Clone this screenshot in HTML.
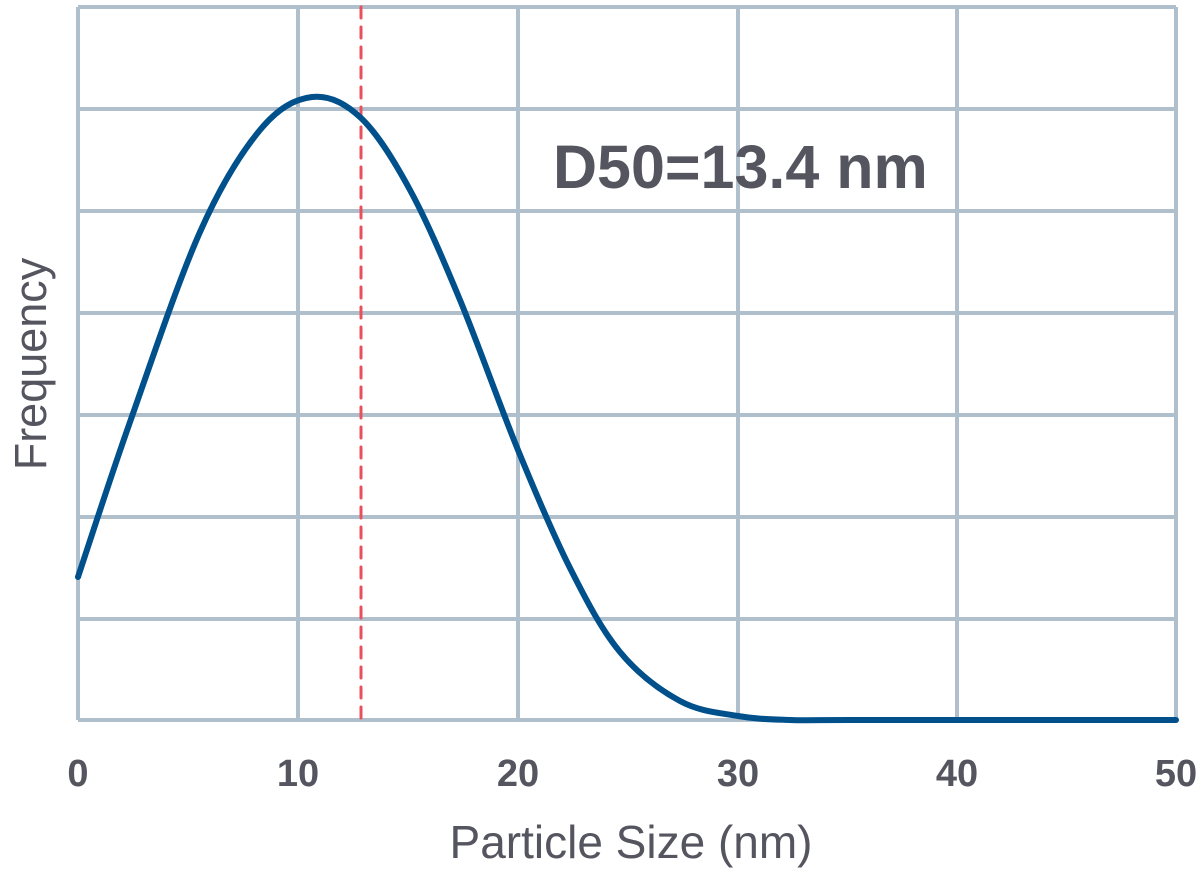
<!DOCTYPE html>
<html><head><meta charset="utf-8"><style>
html,body{margin:0;padding:0;background:#fff;}
svg{display:block;font-family:"Liberation Sans",sans-serif;}
</style></head><body>
<svg width="1200" height="872" viewBox="0 0 1200 872" xmlns="http://www.w3.org/2000/svg">
<g stroke="#b0bfcc" stroke-width="4" fill="none">
<line x1="78" y1="7" x2="1176" y2="7"/>
<line x1="78" y1="109" x2="1176" y2="109"/>
<line x1="78" y1="211" x2="1176" y2="211"/>
<line x1="78" y1="313" x2="1176" y2="313"/>
<line x1="78" y1="415" x2="1176" y2="415"/>
<line x1="78" y1="517" x2="1176" y2="517"/>
<line x1="78" y1="619" x2="1176" y2="619"/>
<line x1="78" y1="720" x2="1176" y2="720"/>
<line x1="78" y1="7" x2="78" y2="720"/>
<line x1="298" y1="7" x2="298" y2="720"/>
<line x1="518" y1="7" x2="518" y2="720"/>
<line x1="738" y1="7" x2="738" y2="720"/>
<line x1="957" y1="7" x2="957" y2="720"/>
<line x1="1176" y1="7" x2="1176" y2="720"/>
</g>
<line x1="361" y1="7" x2="361" y2="722" stroke="#e8505b" stroke-width="3" stroke-dasharray="11,9" stroke-linecap="round"/>
<path id="curve" d="" stroke="#00508c" stroke-width="6" fill="none" stroke-linecap="round" stroke-linejoin="round"/>
<text x="553" y="188" font-size="61" font-weight="bold" fill="#55555f">D50=13.4 nm</text>
<g font-size="38" fill="#55555f" text-anchor="middle" font-weight="bold">
<text x="78" y="786">0</text><text x="298" y="786">10</text><text x="518" y="786">20</text>
<text x="738" y="786">30</text><text x="957" y="786">40</text><text x="1176" y="786">50</text>
</g>
<text x="631" y="858" font-size="46" fill="#55555f" text-anchor="middle">Particle Size (nm)</text>
<text transform="translate(46,364) rotate(-90)" font-size="45" fill="#55555f" text-anchor="middle">Frequency</text>
</svg>
<script>
var p=[[78,577],[130,422],[200,232],[260,130],[312,97],[361,118],[410,190],[460,300],[518,450],[570,568],[620,652],[680,701],[738,716],[790,720],[850,720],[1176,720]];
var d="M"+p[0][0]+","+p[0][1];
for(var i=0;i<p.length-1;i++){var a=p[i-1]||p[i],b=p[i],c=p[i+1],e=p[i+2]||c;
if(i==p.length-2){d+=" L"+c[0]+","+c[1];break;}
d+=" C"+(b[0]+(c[0]-a[0])/6)+","+(b[1]+(c[1]-a[1])/6)+" "+(c[0]-(e[0]-b[0])/6)+","+(c[1]-(e[1]-b[1])/6)+" "+c[0]+","+c[1];}
document.getElementById("curve").setAttribute("d",d);
</script>
</body></html>
